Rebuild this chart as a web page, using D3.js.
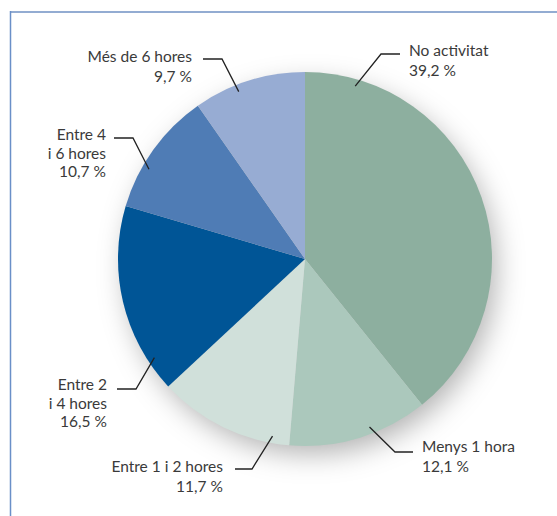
<!DOCTYPE html>
<html><head><meta charset="utf-8">
<script src="https://cdn.jsdelivr.net/npm/d3@7"></script>
<style>body{margin:0;background:#fff}svg{display:block}</style>
</head><body>
<svg id="c" width="557" height="516"></svg>
<script>
const categories = ["No activitat","Menys 1 hora","Entre 1 i 2 hores","Entre 2 i 4 hores","Entre 4 i 6 hores","Més de 6 hores"];
const values = [39.2, 12.1, 11.7, 16.5, 10.7, 9.7];
const labelLines = [["No activitat","39,2 %"],["Menys 1 hora","12,1 %"],["Entre 1 i 2 hores","11,7 %"],["Entre 2","i 4 hores","16,5 %"],["Entre 4","i 6 hores","10,7 %"],["Més de 6 hores","9,7 %"]];
const colors = ["#8daf9f","#abc8bc","#d0e0da","#005596","#4f7cb5","#97acd3"];

const svg = d3.select("#c");
const cx = 305, cy = 259, r = 187;

svg.append("line").attr("x1",10).attr("x2",557).attr("y1",12).attr("y2",12).attr("stroke","#93acd2").attr("stroke-width",2);
svg.append("line").attr("x1",10.5).attr("x2",10.5).attr("y1",11).attr("y2",516).attr("stroke","#6a8fc8").attr("stroke-width",1.5);

const defs = svg.append("defs");
const f = defs.append("filter").attr("id","sh").attr("x","-40%").attr("y","-40%").attr("width","180%").attr("height","180%");
f.append("feDropShadow").attr("dx",6).attr("dy",10).attr("stdDeviation",14).attr("flood-color","#000").attr("flood-opacity",0.3);

const pie = d3.pie().sort(null).value(d=>d);
const arcs = pie(values);
const arc = d3.arc().innerRadius(0).outerRadius(r);
const g = svg.append("g").attr("transform",`translate(${cx},${cy})`);
g.append("circle").attr("r",r-2).attr("fill","#ccc").attr("filter","url(#sh)");
g.selectAll("path").data(arcs).join("path").attr("d",arc).attr("fill",(d,i)=>colors[i]);

// leader start angle (deg, clockwise from top) and label layout
const lab = [
  {ang:16.2, anchor:"start", x:409, y:56, lead:[[381,54],[400,54]]},
  {ang:159, anchor:"start", x:422, y:452, lead:[[395,452],[413,452]]},
  {ang:190.4, anchor:"end", x:223, y:472, lead:[[252,469],[235,469]]},
  {ang:236.8, anchor:"end", x:107, y:390, lead:[[136,389],[117,389]]},
  {ang:299.9, anchor:"end", x:106, y:140, lead:[[133,138],[114,138]]},
  {ang:338.4, anchor:"end", x:192, y:62, lead:[[222,59],[203,59]]}
];
const rl = r - 7;
arcs.forEach((a,i)=>{
  const L = lab[i];
  const t0 = L.ang*Math.PI/180;
  const start = [cx + rl*Math.sin(t0), cy - rl*Math.cos(t0)];
  const pts = [start].concat(L.lead);
  svg.append("path").attr("d", d3.line()(pts)).attr("fill","none").attr("stroke","#222").attr("stroke-width",1.3);
  const t = svg.append("text").attr("x",L.x).attr("y",L.y).attr("text-anchor",L.anchor)
    .attr("font-family","Lato, 'Open Sans', sans-serif").attr("font-size",15.5).attr("fill","#3a3a3a");
  labelLines[i].forEach((s,j)=>{
    t.append("tspan").attr("x",L.x).attr("y",L.y + j*(labelLines[i].length===3?18.5:20)).text(s);
  });
});
</script>
</body></html>
